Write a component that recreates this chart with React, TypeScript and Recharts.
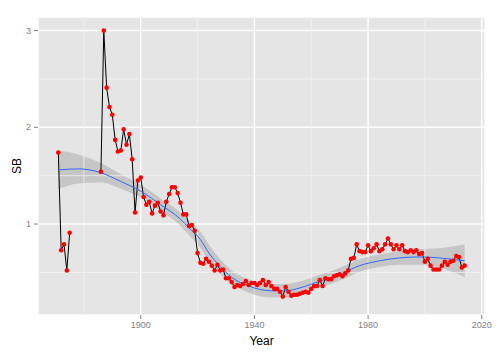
import React from 'react';
import { ComposedChart, Line, Area, XAxis, YAxis, CartesianGrid, ReferenceLine } from 'recharts';

const years: number[] = [];
for (let y = 1871; y <= 2014; y++) years.push(y);

const sbValues: (number | null)[] = [
  1.74, 0.73, 0.79, 0.52, 0.91,
  null, null, null, null, null, null, null, null, null, null,
  1.54, 3.0, 2.41, 2.21, 2.13, 1.87, 1.75, 1.76, 1.98, 1.82, 1.93, 1.67, 1.12, 1.45,
  1.48, 1.28, 1.2, 1.23, 1.11, 1.19, 1.22, 1.13, 1.09, 1.23,
  1.31, 1.38, 1.38, 1.32, 1.22, 1.1, 1.1, 0.98, 0.99, 0.93,
  0.7, 0.6, 0.59, 0.64, 0.61, 0.57, 0.52, 0.58, 0.52, 0.53,
  0.44, 0.44, 0.4, 0.35, 0.37, 0.36, 0.38, 0.41, 0.37, 0.39,
  0.39, 0.37, 0.39, 0.42, 0.37, 0.4, 0.36, 0.33, 0.33, 0.3,
  0.25, 0.35, 0.3, 0.26, 0.27, 0.27, 0.28, 0.29, 0.3, 0.29,
  0.33, 0.36, 0.36, 0.42, 0.36, 0.44, 0.43, 0.43, 0.46, 0.47,
  0.48, 0.46, 0.49, 0.52, 0.64, 0.65, 0.79, 0.72, 0.71, 0.71,
  0.78, 0.72, 0.75, 0.79, 0.72, 0.74, 0.79, 0.85, 0.79, 0.74,
  0.78, 0.74, 0.78, 0.72, 0.71, 0.73, 0.71, 0.73, 0.69, 0.7,
  0.61, 0.64, 0.57, 0.53, 0.53, 0.53, 0.57, 0.61, 0.58, 0.61,
  0.62, 0.67, 0.66, 0.55, 0.57,
];

const fitYears = [1871, 1878, 1886, 1893, 1900, 1907, 1914, 1917, 1921, 1924, 1928, 1932, 1938, 1946, 1951, 1956, 1963, 1970, 1977, 1984, 1991, 1998, 2005, 2014];
const fitValues = [1.56, 1.57, 1.53, 1.44, 1.34, 1.2, 1.05, 0.96, 0.84, 0.7, 0.56, 0.45, 0.36, 0.31, 0.31, 0.34, 0.41, 0.48, 0.57, 0.62, 0.65, 0.66, 0.65, 0.62];
const fitHalfWidth = [0.2, 0.15, 0.1, 0.075, 0.065, 0.065, 0.07, 0.075, 0.085, 0.085, 0.075, 0.07, 0.07, 0.07, 0.07, 0.065, 0.065, 0.065, 0.065, 0.065, 0.07, 0.08, 0.1, 0.17];

const xTicks = [1900, 1940, 1980, 2020];
const xMinor = [1880, 1920, 1960, 2000];
const yTicks = [1, 2, 3];
const yMinor = [0.5, 1.5, 2.5];

const sbData = years.map((year, i) => ({ year, sb: sbValues[i] }));
const fitData = fitYears.map((year, i) => ({
  year,
  fit: fitValues[i],
  band: [fitValues[i] - fitHalfWidth[i], fitValues[i] + fitHalfWidth[i]],
}));

const FONT = 'Liberation Sans, Arial, Helvetica, sans-serif';

const YLabel = (props: any) => {
  const vb = props.viewBox || {};
  const cx = (vb.x ?? 8) + 9;
  const cy = (vb.y ?? 17) + (vb.height ?? 298) / 2;
  return (
    <text x={cx} y={cy} transform={`rotate(-90, ${cx}, ${cy})`} textAnchor="middle" dominantBaseline="central" fontSize={12} fontFamily={FONT} fill="#000">
      SB
    </text>
  );
};

const XLabel = (props: any) => {
  const vb = props.viewBox || {};
  const cx = (vb.x ?? 38) + (vb.width ?? 447) / 2;
  const cy = (vb.y ?? 315) + 30;
  return (
    <text x={cx} y={cy} textAnchor="middle" fontSize={12} fontFamily={FONT} fill="#000">
      Year
    </text>
  );
};

export default function App() {
  return (
    <div style={{ position: 'absolute', left: 0, top: 0, width: 504, height: 356, background: '#fff' }}>
      <ComposedChart width={504} height={356} data={sbData} margin={{ top: 17, right: 19, bottom: 0, left: 8 }}>
        <CartesianGrid fill="#E5E5E5" stroke="#FFFFFF" strokeWidth={1.4} />
        {xMinor.map((v) => (
          <ReferenceLine key={'xm' + v} x={v} stroke="#F2F2F2" strokeWidth={0.8} />
        ))}
        {yMinor.map((v) => (
          <ReferenceLine key={'ym' + v} y={v} stroke="#F2F2F2" strokeWidth={0.8} />
        ))}
        <XAxis
          type="number"
          dataKey="year"
          domain={[1863.85, 2021.15]}
          ticks={xTicks}
          allowDataOverflow
          axisLine={false}
          tickSize={4}
          tickMargin={3}
          tickLine={{ stroke: '#7F7F7F' }}
          tick={{ fill: '#7F7F7F', fontSize: 9, fontFamily: FONT }}
          height={41}
          label={<XLabel />}
        />
        <YAxis
          type="number"
          domain={[0.06, 3.14]}
          ticks={yTicks}
          allowDataOverflow
          axisLine={false}
          tickSize={4}
          tickMargin={3}
          tickLine={{ stroke: '#7F7F7F' }}
          tick={{ fill: '#7F7F7F', fontSize: 9, fontFamily: FONT }}
          width={30}
          label={<YLabel />}
        />
        <Line
          dataKey="sb"
          stroke="#000000"
          strokeWidth={1}
          type="linear"
          connectNulls={false}
          dot={{ r: 2.3, fill: '#FF0000', stroke: 'none', fillOpacity: 1 }}
          activeDot={false}
          isAnimationActive={false}
        />
        <Area
          data={fitData}
          dataKey="band"
          type="monotone"
          stroke="none"
          fill="#999999"
          fillOpacity={0.4}
          isAnimationActive={false}
          activeDot={false}
        />
        <Line
          data={fitData}
          dataKey="fit"
          type="monotone"
          stroke="#3366FF"
          strokeWidth={1}
          dot={false}
          activeDot={false}
          isAnimationActive={false}
        />
      </ComposedChart>
    </div>
  );
}
